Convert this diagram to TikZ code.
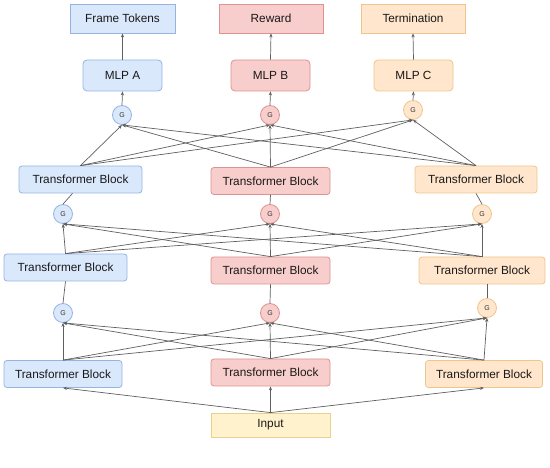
\documentclass[tikz,border=0pt]{standalone}
\usepackage{fontspec}
\setmainfont{Liberation Sans}
\usetikzlibrary{arrows.meta}
\definecolor{blueF}{RGB}{218,232,252}
\definecolor{blueD}{RGB}{150,180,225}
\definecolor{redF}{RGB}{248,206,204}
\definecolor{redD}{RGB}{222,145,145}
\definecolor{oraF}{RGB}{255,230,204}
\definecolor{oraD}{RGB}{238,198,140}
\definecolor{inF}{RGB}{255,242,204}
\definecolor{inD}{RGB}{230,210,140}
\definecolor{lnk}{RGB}{95,95,95}

\begin{document}
\begin{tikzpicture}[x=1pt,y=-1pt,>={Stealth[length=4pt,width=3.2pt]},
  txt/.style={font=\fontsize{11.8}{13}\selectfont,text=black!90,inner sep=0pt},
  outbox/.style={txt,draw,line width=0.8pt,minimum width=104pt,minimum height=29pt},
  tblock/.style={txt,draw,line width=0.8pt,rounded corners=3pt,minimum width=121pt,minimum height=27pt},
  mlp/.style={tblock,minimum width=79pt,minimum height=31pt,rounded corners=4pt},
  gate/.style={circle,draw,line width=0.8pt,minimum size=19pt,inner sep=0pt,font=\fontsize{7}{8}\selectfont,text=black!80},
  link/.style={lnk,line width=0.7pt}]
\useasboundingbox (0,0) rectangle (550,468);
% outputs
\node[outbox,fill=blueF,draw=blueD,minimum width=105pt] (ft) at (122.5,18.5) {Frame Tokens};
\node[outbox,fill=redF,draw=redD] (rw) at (271,18.5) {Reward};
\node[outbox,fill=oraF,draw=oraD] (tm) at (413,18.5) {Termination};
\node[mlp,fill=blueF,draw=blueD] (mlpA) at (122.5,75.5) {MLP A};
\node[mlp,fill=redF,draw=redD] (mlpB) at (270.5,75.5) {MLP B};
\node[mlp,fill=oraF,draw=oraD] (mlpC) at (413.5,75.5) {MLP C};
% gates
\node[gate,fill=blueF,draw=blueD] (g3a) at (122,115) {G};
\node[gate,fill=redF,draw=redD] (g3b) at (270,115) {G};
\node[gate,fill=oraF,draw=oraD] (g3c) at (413,110) {G};
\node[gate,fill=blueF,draw=blueD] (g2a) at (63,214) {G};
\node[gate,fill=redF,draw=redD] (g2b) at (270,214) {G};
\node[gate,fill=oraF,draw=oraD] (g2c) at (482,214) {G};
\node[gate,fill=blueF,draw=blueD] (g1a) at (63,313) {G};
\node[gate,fill=redF,draw=redD] (g1b) at (270,313) {G};
\node[gate,fill=oraF,draw=oraD] (g1c) at (487,308) {G};
% transformer blocks
\node[tblock,fill=blueF,draw=blueD,minimum width=123pt] (tb3a) at (80.5,179.5) {Transformer Block};
\node[tblock,fill=redF,draw=redD,minimum width=119pt] (tb3b) at (270.5,181) {Transformer Block};
\node[tblock,fill=oraF,draw=oraD,minimum width=122pt] (tb3c) at (476,179.5) {Transformer Block};
\node[tblock,fill=blueF,draw=blueD,minimum width=123pt] (tb2a) at (65.5,267.5) {Transformer Block};
\node[tblock,fill=redF,draw=redD,minimum width=119pt] (tb2b) at (270.5,270.5) {Transformer Block};
\node[tblock,fill=oraF,draw=oraD,minimum width=126pt] (tb2c) at (482,270.5) {Transformer Block};
\node[tblock,fill=blueF,draw=blueD,minimum width=118pt] (tb1a) at (63,374) {Transformer Block};
\node[tblock,fill=redF,draw=redD,minimum width=119pt] (tb1b) at (270.5,372.5) {Transformer Block};
\node[tblock,fill=oraF,draw=oraD,minimum width=117pt] (tb1c) at (484,374) {Transformer Block};
\node[outbox,fill=inF,draw=inD,minimum width=119pt,minimum height=24pt] (inp) at (270.5,425) {Input};
% input to first blocks
\draw[link,->] (inp.north) -- (tb1a.south);
\draw[link,->] (inp.north) -- (tb1b.south);
\draw[link,->] (inp.north) -- (tb1c.south);
% every block feeds every gate of the next level
\foreach \s in {a,b,c}{
  \foreach \t in {a,b,c}{
    \draw[link,->] (tb1\s.north) -- (g1\t.south);
    \draw[link,->] (tb2\s.north) -- (g2\t.south);
    \draw[link,->] (tb3\s.north) -- (g3\t.south);
  }
}
\draw[link] (g1a.north) -- (tb2a.south);
\draw[link] (g1b.north) -- (tb2b.south);
\draw[link] (g1c.north) -- (tb2c.south -| g1c);
\draw[link] (g2a.north) -- ([xshift=-8pt]tb3a.south);
\draw[link] (g2b.north) -- (tb3b.south);
\draw[link] (g2c.north) -- (tb3c.south);
% heads
\draw[link,->] (g3a.north) -- (mlpA.south);
\draw[link,->] (g3b.north) -- (mlpB.south);
\draw[link,->] (g3c.north) -- (mlpC.south);
\draw[link,->] (mlpA.north) -- (ft.south);
\draw[link,->] (mlpB.north) -- (rw.south);
\draw[link,->] (mlpC.north) -- (tm.south);
\end{tikzpicture}
\end{document}
